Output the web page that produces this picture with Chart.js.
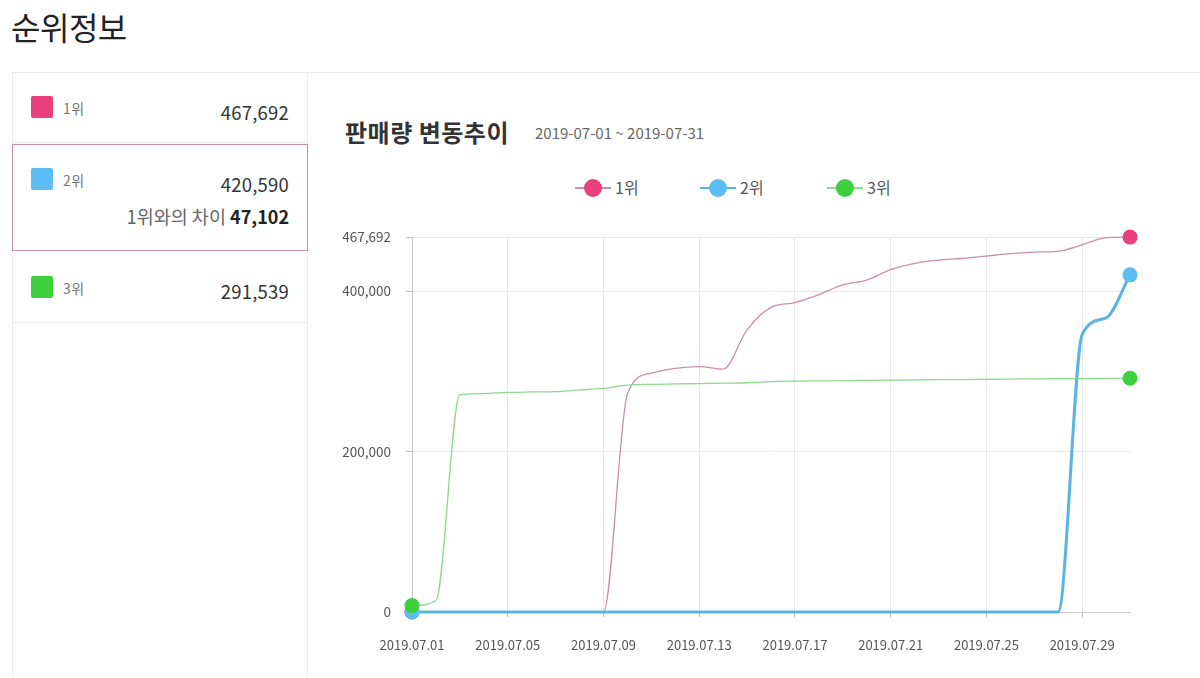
<!DOCTYPE html>
<html><head><meta charset="utf-8">
<script src="https://cdn.jsdelivr.net/npm/chart.js@4.4.1/dist/chart.umd.min.js"></script>
<style>
html,body{margin:0;padding:0}
body{width:1200px;height:678px;background:#fff;font-family:"Noto Sans CJK KR","Noto Sans",sans-serif;position:relative;overflow:hidden;color:#333}
.abs{position:absolute}
#pageTitle{left:11px;top:5px;font-size:32px;color:#222;line-height:42px;letter-spacing:-0.5px}
.hline{position:absolute;height:1px;background:#ececec}
.vline{position:absolute;width:1px;background:#ececec}
.sq{position:absolute;width:22px;height:22px;border-radius:2px}
.rk{position:absolute;font-size:14px;color:#777;line-height:18px;letter-spacing:0.5px}
.val{position:absolute;right:911px;font-size:18.5px;color:#333;line-height:24px;text-align:right;white-space:nowrap;letter-spacing:0.2px}
#sel{position:absolute;left:12px;top:144px;width:296px;height:107px;border:1.5px solid #c58ea9;box-sizing:border-box}
#diff{position:absolute;right:911px;top:204px;font-size:18.5px;color:#666;line-height:24px;white-space:nowrap}
#diff b{color:#222;font-size:18px}
#ctitle{left:345px;top:115px;font-size:24px;font-weight:700;color:#333;line-height:34px;letter-spacing:0.5px}
#csub{left:535px;top:123px;font-size:15px;color:#666;line-height:20px}
#legend{position:absolute;left:0;top:176px;width:1200px;height:24px}
.li{position:absolute;top:0;height:24px}
.li .ln{position:absolute;left:0;top:11px;width:36px;height:1.5px}
.li .dot{position:absolute;left:9px;top:3px;width:18px;height:18px;border-radius:50%}
.li .tx{position:absolute;left:40px;top:0px;font-size:16px;color:#555;line-height:23px;white-space:nowrap}
#wrap{position:absolute;left:322px;top:214px;width:840px;height:451px}
</style>
</head>
<body>
<div id="pageTitle" class="abs">순위정보</div>

<div class="hline" style="left:12px;top:72px;width:1188px"></div>
<div class="vline" style="left:12px;top:72px;height:606px"></div>
<div class="vline" style="left:307px;top:72px;height:606px"></div>
<div class="hline" style="left:12px;top:322px;width:295px"></div>

<div id="panel"></div>
<div id="sel"></div>

<div id="ctitle" class="abs">판매량 변동추이</div>
<div id="csub" class="abs">2019-07-01 ~ 2019-07-31</div>
<div id="legend"></div>

<div id="wrap"><canvas id="c"></canvas></div>

<script>
// ---- data ----
const dates = ["2019.07.01","2019.07.02","2019.07.03","2019.07.04","2019.07.05","2019.07.06","2019.07.07","2019.07.08","2019.07.09","2019.07.10","2019.07.11","2019.07.12","2019.07.13","2019.07.14","2019.07.15","2019.07.16","2019.07.17","2019.07.18","2019.07.19","2019.07.20","2019.07.21","2019.07.22","2019.07.23","2019.07.24","2019.07.25","2019.07.26","2019.07.27","2019.07.28","2019.07.29","2019.07.30","2019.07.31"];
const seriesNames = ["1위","2위","3위"];
const rank1 = [0,0,0,0,0,0,0,0,0,272000,298000,304000,306000,303000,352000,380000,386000,396000,408000,414000,427000,435000,439000,441000,444000,447000,449000,450000,458000,467000,467692];
const rank2 = [0,0,0,0,0,0,0,0,0,0,0,0,0,0,0,0,0,0,0,0,0,0,0,0,0,0,0,0,346000,367000,420590];
const rank3 = [8000,14000,271000,272500,274000,274500,275000,277000,279000,283000,284000,284500,285000,285500,286000,287500,288000,288300,288600,288900,289200,289500,289800,290000,290300,290600,290800,291000,291200,291400,291539];
const totals = [467692, 420590, 291539];
const gapToFirst = 47102;
const yTickValues = [0, 200000, 400000, 467692];

// ---- styles ----
const dotColors = ["#e8407a","#5bbdf3","#3ccf3e"];
const lineColors = ["#c98fab","#5ab4e2","#8fd88f"];
const fmt = v => Number(v).toLocaleString('en-US');
const FONT = '"Noto Sans CJK KR","Noto Sans",sans-serif';

// ---- left panel ----
const panel = document.getElementById('panel');
const rowTops = [96, 168, 276];
const valTops = [100, 172, 279];
seriesNames.forEach((n,i)=>{
  const sq = document.createElement('div'); sq.className='sq';
  sq.style.left='31px'; sq.style.top=rowTops[i]+'px'; sq.style.background=dotColors[i];
  panel.appendChild(sq);
  const rk = document.createElement('div'); rk.className='rk';
  rk.style.left='63px'; rk.style.top=(rowTops[i]+3)+'px'; rk.textContent=n;
  panel.appendChild(rk);
  const v = document.createElement('div'); v.className='val';
  v.style.top=valTops[i]+'px'; v.textContent=fmt(totals[i]);
  panel.appendChild(v);
});
const hl = document.createElement('div'); hl.className='hline';
hl.style.cssText='left:12px;top:142px;width:295px'; panel.appendChild(hl);
const df = document.createElement('div'); df.id='diff';
df.innerHTML = seriesNames[0]+'와의 차이 <b>'+fmt(gapToFirst)+'</b>';
panel.appendChild(df);

// ---- legend ----
const legend = document.getElementById('legend');
const legLefts = [575, 700, 827];
seriesNames.forEach((n,i)=>{
  const li = document.createElement('div'); li.className='li'; li.style.left=legLefts[i]+'px';
  li.innerHTML = '<div class="ln" style="background:'+lineColors[i]+'"></div><div class="dot" style="background:'+dotColors[i]+'"></div><div class="tx">'+n+'</div>';
  legend.appendChild(li);
});

// ---- chart ----
const last = dates.length-1;
const ptR = ctx => (ctx.dataIndex===0 || ctx.dataIndex===last) ? 7.5 : 0;
function ds(label, data, i, width, order){
  return {label, data, borderColor: lineColors[i], borderWidth: width,
    pointRadius: ptR, pointHoverRadius: ptR, pointBackgroundColor: dotColors[i], pointBorderWidth: 0,
    cubicInterpolationMode:'monotone', fill:false, clip:false, order};
}
new Chart(document.getElementById('c'), {
  type:'line',
  data:{ labels: dates, datasets:[
    ds(seriesNames[0], rank1, 0, 1.3, 2),
    ds(seriesNames[1], rank2, 1, 3, 1),
    ds(seriesNames[2], rank3, 2, 1.3, 0)
  ]},
  options:{
    responsive:true, maintainAspectRatio:false, animation:false,
    layout:{padding:{top:3,right:32,left:0,bottom:0}},
    plugins:{legend:{display:false}, tooltip:{enabled:false}},
    events:[],
    scales:{
      x:{
        offset:false,
        grid:{color: c => (c.index%4===0 ? '#e7e7e7' : 'rgba(0,0,0,0)'),
              tickColor: c => (c.index%4===0 ? '#bdbdbd' : 'rgba(0,0,0,0)'), tickLength:5},
        border:{color:'#c9c9c9', width:1},
        ticks:{autoSkip:false, maxRotation:0, minRotation:0, padding:20, color:'#555',
               font:{size:13, family:FONT},
               callback:(v,i)=> (i%4===0 ? dates[i] : '')},
        afterFit: s => { s.height = 53; }
      },
      y:{
        min:0, max:467692,
        afterBuildTicks: s => { s.ticks = yTickValues.map(v=>({value:v})); },
        grid:{color:'#e7e7e7', tickColor:'#bdbdbd', tickLength:6},
        border:{color:'#c9c9c9', width:1},
        ticks:{padding:15, color:'#555', font:{size:13.5, family:FONT},
               callback: v => fmt(v)},
        afterFit: s => { s.width = 90; }
      }
    }
  }
});
</script>
</body></html>
